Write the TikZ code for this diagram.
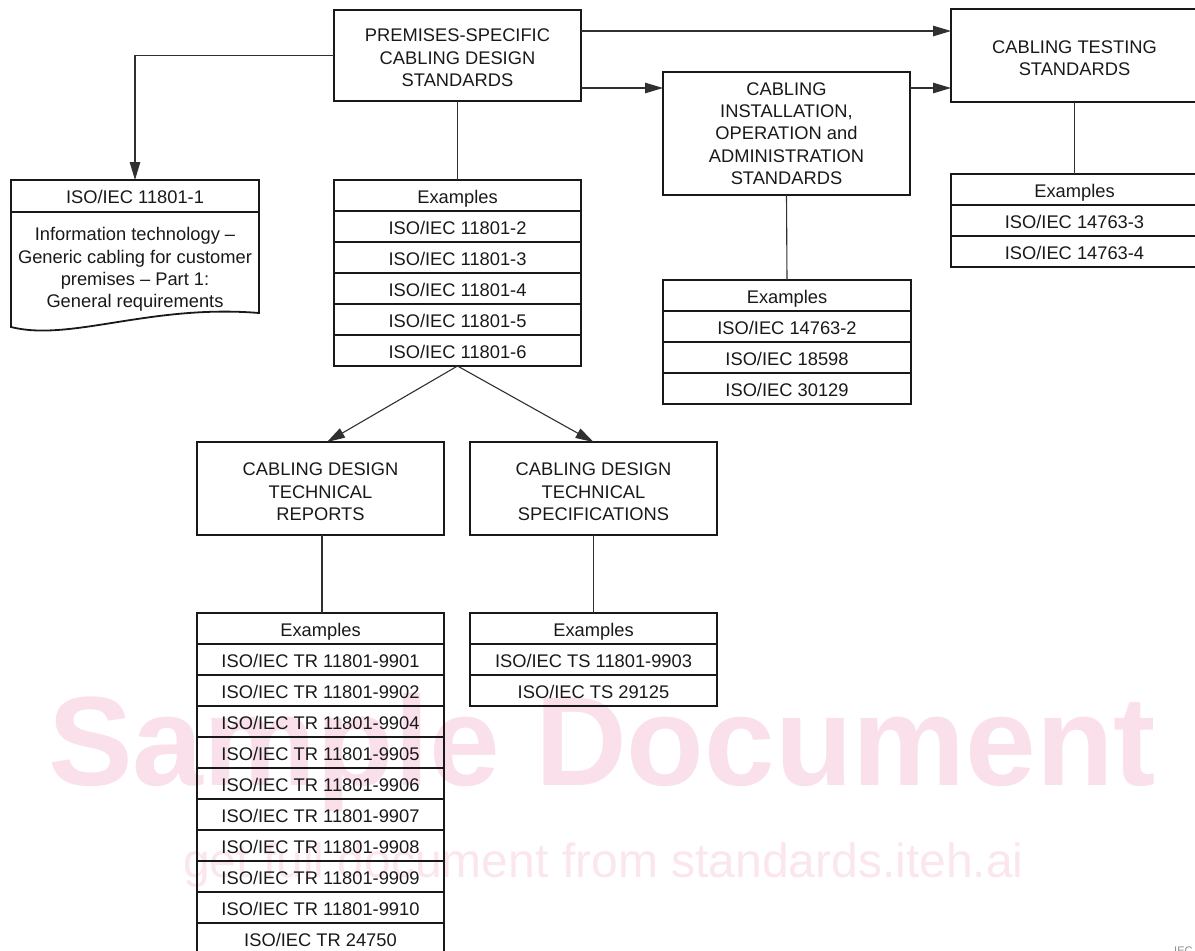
\documentclass[tikz,border=0pt]{standalone}
\usepackage{fontspec}
\setmainfont{Liberation Sans}
\usetikzlibrary{arrows.meta}
\definecolor{wmA}{RGB}{250,224,234}
\definecolor{wmB}{RGB}{251,230,238}
\definecolor{ink}{RGB}{25,25,25}
\newcommand{\lift}[1]{\rule{0pt}{#1}}
\tikzset{
  txt/.style={font=\fontsize{18.3}{22.4}\selectfont, align=center, text=ink},
  box/.style={txt, draw=ink, line width=1.8pt, inner sep=0pt, outer sep=0pt, minimum width=247pt},
  cell/.style={box, minimum height=31pt, text height=16pt, text depth=1pt},
  conn/.style={draw=ink!90, line width=1.1pt},
  arr/.style={conn, -{Triangle[length=18pt,width=10.5pt]}},
}
\begin{document}
\begin{tikzpicture}[x=1pt,y=-1pt]
\useasboundingbox (0,0) rectangle (1195,951);
\clip (0,0) rectangle (1195,951);
% watermark
\node[anchor=base west, inner sep=0pt, text=wmA, font=\fontsize{127}{130}\selectfont\bfseries] (wm1) at (48,785) {Sample Document};
\node[anchor=base west, inner sep=0pt, text=wmB, font=\fontsize{48}{50}\selectfont] (wm2) at (183,877) {get full document from standards.iteh.ai};

% main boxes
\node[box, minimum height=91pt] (top) at (457.5,55.5) {\lift{17.4pt}PREMISES-SPECIFIC\\CABLING DESIGN\\STANDARDS};
\node[box, minimum height=93pt] (test) at (1074.5,55.5) {\lift{18.4pt}CABLING TESTING\\STANDARDS};
\node[box, minimum height=123pt] (inst) at (786.5,133.5) {CABLING\\INSTALLATION,\\OPERATION and\\ADMINISTRATION\\STANDARDS};
\node[box, minimum height=93pt] (rep) at (320.5,488.5) {\lift{19.4pt}CABLING DESIGN\\TECHNICAL\\REPORTS};
\node[box, minimum height=93pt] (spec) at (593.5,488.5) {\lift{19.4pt}CABLING DESIGN\\TECHNICAL\\SPECIFICATIONS};

% ISO/IEC 11801-1 document
\node[cell, minimum width=248pt, minimum height=32pt] (iso1) at (135,196) {ISO/IEC 11801-1};
\draw[ink, line width=1.8pt] (iso1.south west) -- (11,327) .. controls (70,342) and (150,304) .. (259,313) -- (iso1.south east);
\node[txt, inner sep=0pt] (iso1t) at (135,269.5) {Information technology --\\Generic cabling for customer\\premises -- Part 1:\\General requirements};

% middle examples
\node[cell] (m0) at (457.5,195.5) {Examples};
\node[cell] (m1) at (457.5,226.5) {ISO/IEC 11801-2};
\node[cell] (m2) at (457.5,257.5) {ISO/IEC 11801-3};
\node[cell] (m3) at (457.5,288.5) {ISO/IEC 11801-4};
\node[cell] (m4) at (457.5,319.5) {ISO/IEC 11801-5};
\node[cell] (m5) at (457.5,350.5) {ISO/IEC 11801-6};

% testing examples
\node[cell] (t0) at (1074.5,189.5) {Examples};
\node[cell] (t1) at (1074.5,220.5) {ISO/IEC 14763-3};
\node[cell] (t2) at (1074.5,251.5) {ISO/IEC 14763-4};

% installation examples
\node[cell, minimum width=248pt] (i0) at (787,295.5) {Examples};
\node[cell, minimum width=248pt] (i1) at (787,326.5) {ISO/IEC 14763-2};
\node[cell, minimum width=248pt] (i2) at (787,357.5) {ISO/IEC 18598};
\node[cell, minimum width=248pt] (i3) at (787,388.5) {ISO/IEC 30129};

% reports examples
\node[cell] (r0) at (320.5,628.5) {Examples};
\node[cell] (r1) at (320.5,659.5) {ISO/IEC TR 11801-9901};
\node[cell] (r2) at (320.5,690.5) {ISO/IEC TR 11801-9902};
\node[cell] (r3) at (320.5,721.5) {ISO/IEC TR 11801-9904};
\node[cell] (r4) at (320.5,752.5) {ISO/IEC TR 11801-9905};
\node[cell] (r5) at (320.5,783.5) {ISO/IEC TR 11801-9906};
\node[cell] (r6) at (320.5,814.5) {ISO/IEC TR 11801-9907};
\node[cell] (r7) at (320.5,845.5) {ISO/IEC TR 11801-9908};
\node[cell] (r8) at (320.5,876.5) {ISO/IEC TR 11801-9909};
\node[cell] (r9) at (320.5,907.5) {ISO/IEC TR 11801-9910};
\node[cell] (r10) at (320.5,938.5) {ISO/IEC TR 24750};

% specifications examples
\node[cell] (s0) at (593.5,628.5) {Examples};
\node[cell] (s1) at (593.5,659.5) {ISO/IEC TS 11801-9903};
\node[cell] (s2) at (593.5,690.5) {ISO/IEC TS 29125};

% connectors
\draw[arr] (top.west) -| (iso1.north);
\draw[arr] ([yshift=24.5pt]top.east) -- ([yshift=24.5pt]top.east -| test.west);
\draw[arr] ([yshift=-32.5pt]top.east) -- ([yshift=-32.5pt]top.east -| inst.west);
\draw[arr] ([yshift=45.5pt]inst.east) -- ([yshift=45.5pt]inst.east -| test.west);
\draw[conn] (top.south) -- (m0.north);
\draw[conn] (test.south) -- (t0.north);
\draw[conn] (inst.south) -- (i0.north);
\draw[arr] (m5.south) -- ([xshift=6.5pt]rep.north);
\draw[arr] (m5.south) -- (spec.north);
\draw[conn] ([xshift=1.5pt]rep.south) -- ([xshift=1.5pt]r0.north);
\draw[conn] (spec.south) -- (s0.north);

% figure label (cut off)
\node[anchor=north west, inner sep=0pt, text=black!45, font=\fontsize{11}{12}\selectfont] (lab) at (1174,947) {IEC};
\end{tikzpicture}
\end{document}
